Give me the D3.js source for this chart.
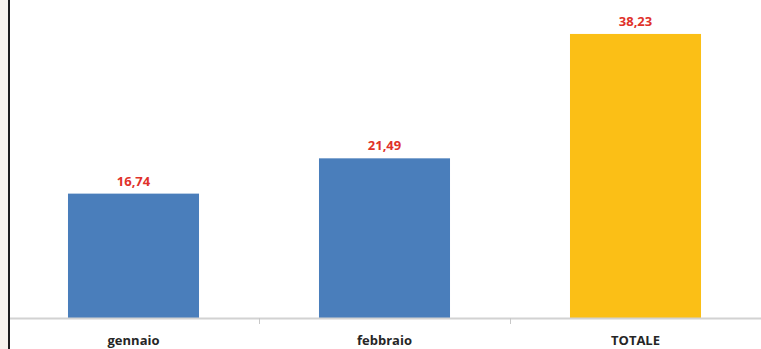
<!DOCTYPE html>
<html>
<head>
<meta charset="utf-8">
<script src="https://cdn.jsdelivr.net/npm/d3@7"></script>
<style>
  html, body { margin: 0; padding: 0; background: #ffffff; }
  svg { display: block; }
</style>
</head>
<body>
<svg id="chart" width="761" height="349"></svg>
<script>
// Monthly values and their total
const categories = ["gennaio", "febbraio", "TOTALE"];
const values = [16.74, 21.49, 38.23];
const valueLabels = ["16,74", "21,49", "38,23"];
const barColors = ["#4a7ebb", "#4a7ebb", "#fbbf16"];

const W = 761, H = 349;
const left = 9, right = 761, baseline = 318;

const svg = d3.select("#chart");

// cream margin strip and dark frame line on the left
svg.append("rect").attr("x", 0).attr("y", 0).attr("width", 8).attr("height", H).attr("fill", "#f8f4ee");
svg.append("rect").attr("x", 8).attr("y", 0).attr("width", 2).attr("height", H).attr("fill", "#1e1e1e");

const x = d3.scaleBand().domain(categories).range([left - 1, right]).paddingInner(0.478).paddingOuter(0.239);
const y = d3.scaleLinear().domain([0, 40]).range([baseline, baseline - 40 * 7.43]);

const data = categories.map((c, i) => ({ c, v: values[i], label: valueLabels[i], color: barColors[i] }));

svg.selectAll("rect.bar").data(data).join("rect")
  .attr("class", "bar")
  .attr("x", d => x(d.c))
  .attr("y", d => y(d.v))
  .attr("width", x.bandwidth())
  .attr("height", d => y(0) - y(d.v))
  .attr("fill", d => d.color);

// category axis
const xAxis = d3.axisBottom(x).tickSize(0).tickFormat(d => d);
const ax = svg.append("g").attr("transform", `translate(0,${baseline})`).call(xAxis);
ax.select(".domain").remove();
ax.append("line").attr("x1", left + 1).attr("x2", right).attr("y1", 0.5).attr("y2", 0.5)
  .attr("stroke", "#d2d2d2").attr("stroke-width", 2);
// separators between categories
const step = x.step();
const seps = categories.slice(1).map(c => x(c) - x.paddingInner() * step / 2);
ax.selectAll("line.sep").data(seps).join("line")
  .attr("class", "sep")
  .attr("x1", d => Math.round(d) + 0.5).attr("x2", d => Math.round(d) + 0.5)
  .attr("y1", 0).attr("y2", 6)
  .attr("stroke", "#c8c8c8").attr("stroke-width", 1);
ax.selectAll(".tick text")
  .attr("y", 27)
  .attr("dy", 0)
  .attr("fill", "#262626")
  .style("font-family", "'Open Sans', sans-serif")
  .style("font-weight", "bold")
  .style("font-size", "13px");

// value labels above each bar
svg.selectAll("text.val").data(data).join("text")
  .attr("class", "val")
  .attr("x", d => x(d.c) + x.bandwidth() / 2)
  .attr("y", d => y(d.v) - 8)
  .attr("text-anchor", "middle")
  .attr("fill", "#e0322a")
  .style("font-family", "'Open Sans', sans-serif")
  .style("font-weight", "bold")
  .style("font-size", "13px")
  .text(d => d.label);
</script>
</body>
</html>
